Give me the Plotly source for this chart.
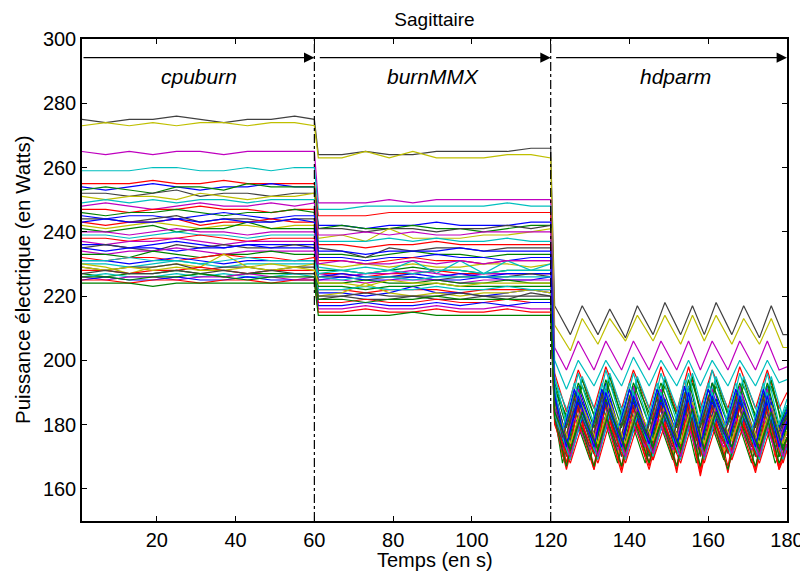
import plotly.graph_objects as go

# Time samples for each phase
T_CPU = [1, 7, 13, 19, 25, 31, 37, 43, 49, 55, 60]
T_MMX = [61, 67, 73, 79, 85, 91, 97, 103, 109, 115, 120]
HD_GRIDS = {
    "A": [121, 124, 127, 131, 134, 138, 141, 145, 148, 152, 155, 158, 161, 165, 168, 172, 175, 178, 180],
    "B": [121, 125, 128, 132, 135, 139, 142, 146, 149, 153, 156, 159, 162, 166, 169, 173, 176, 179, 180],
    "C": [121, 123, 126, 130, 133, 137, 140, 144, 147, 151, 154, 157, 160, 164, 167, 171, 174, 177, 180],
}

SERIES_COLOR = ["k", "y", "m", "c", "r", "b", "g", "k", "y", "c", "m", "r", "g", "b", "k", "r",
                "y", "g", "c", "r", "m", "b", "k", "b", "m", "g", "r", "b", "c", "y", "k", "r",
                "g", "c", "m", "b", "r", "g", "y", "k", "c", "m", "b", "g"]
SERIES_GRID = ["B", "B", "A", "A", "A", "A", "B", "C", "A", "B", "A", "C", "A", "B", "A", "A",
               "C", "B", "A", "B", "A", "C", "A", "B", "A", "C", "A", "B", "A", "B", "C", "A",
               "A", "B", "C", "A", "B", "A", "B", "C", "C", "B", "A", "B"]

CPU_VALUES = [
    [275, 274, 275, 275, 276, 275, 274, 275, 275, 276, 275],
    [273, 274, 273, 274, 273, 274, 274, 273, 274, 274, 273],
    [265, 264, 265, 264, 265, 265, 264, 265, 265, 265, 265],
    [259, 259, 259, 260, 260, 259, 259, 260, 259, 260, 260],
    [255, 255, 255, 256, 255, 255, 256, 255, 255, 255, 255],
    [254, 253, 254, 255, 254, 253, 254, 254, 255, 254, 254],
    [253, 254, 253, 252, 254, 254, 253, 255, 254, 254, 254],
    [252, 252, 251, 252, 253, 251, 252, 252, 251, 252, 252],
    [251, 250, 251, 251, 250, 252, 251, 250, 251, 251, 252],
    [249, 250, 249, 250, 249, 250, 250, 249, 250, 250, 250],
    [248, 249, 248, 247, 248, 249, 248, 248, 249, 248, 249],
    [247, 247, 246, 247, 247, 248, 247, 247, 246, 247, 247],
    [246, 245, 246, 246, 247, 246, 245, 246, 246, 247, 246],
    [245, 244, 245, 245, 244, 245, 246, 245, 244, 245, 245],
    [244, 244, 243, 244, 245, 243, 244, 244, 243, 244, 244],
    [243, 242, 243, 243, 244, 242, 243, 243, 244, 243, 243],
    [242, 241, 242, 243, 242, 241, 242, 242, 241, 242, 242],
    [241, 240, 241, 242, 240, 241, 241, 243, 241, 241, 241],
    [239, 239, 238, 239, 240, 239, 239, 238, 239, 239, 239],
    [238, 238, 237, 238, 238, 239, 238, 237, 238, 238, 238],
    [237, 236, 237, 237, 238, 237, 236, 237, 237, 237, 237],
    [236, 236, 235, 236, 237, 236, 235, 236, 236, 236, 236],
    [235, 236, 235, 234, 236, 235, 236, 235, 235, 236, 235],
    [235, 234, 235, 235, 234, 235, 235, 236, 235, 235, 235],
    [234, 233, 234, 234, 235, 234, 233, 234, 234, 234, 234],
    [233, 233, 232, 234, 233, 232, 233, 233, 234, 233, 233],
    [232, 231, 232, 232, 231, 232, 233, 232, 232, 231, 232],
    [231, 231, 230, 231, 232, 231, 230, 231, 231, 231, 231],
    [230, 230, 229, 230, 231, 230, 229, 230, 230, 230, 230],
    [230, 229, 227, 229, 230, 229, 233, 229, 230, 229, 230],
    [229, 228, 229, 229, 230, 228, 229, 229, 228, 229, 229],
    [228, 228, 227, 228, 228, 229, 228, 227, 228, 228, 228],
    [227, 226, 227, 227, 228, 227, 226, 227, 227, 227, 227],
    [226, 227, 226, 226, 227, 226, 227, 226, 226, 227, 226],
    [226, 225, 226, 226, 225, 226, 226, 227, 226, 225, 226],
    [225, 226, 225, 225, 226, 225, 225, 226, 225, 225, 225],
    [225, 225, 224, 225, 225, 224, 225, 225, 224, 225, 225],
    [224, 224, 224, 223, 224, 224, 224, 224, 224, 224, 224],
    [229, 228, 229, 228, 229, 228, 228, 229, 228, 229, 228],
    [227, 228, 227, 227, 228, 227, 228, 227, 228, 227, 227],
    [231, 231, 232, 231, 231, 230, 231, 232, 231, 231, 231],
    [240, 240, 239, 240, 241, 240, 240, 239, 240, 240, 240],
    [243, 244, 243, 243, 244, 243, 244, 243, 243, 244, 243],
    [226, 226, 225, 226, 226, 227, 226, 225, 226, 226, 226],
]

MMX_VALUES = [
    [264, 264, 265, 264, 264, 265, 265, 265, 265, 266, 266],
    [263, 263, 265, 263, 265, 263, 263, 263, 264, 264, 263],
    [249, 249, 249, 250, 249, 250, 250, 250, 250, 250, 250],
    [247, 247, 248, 248, 248, 248, 248, 248, 249, 248, 248],
    [245, 245, 245, 246, 246, 246, 246, 246, 246, 246, 246],
    [242, 242, 241, 242, 242, 243, 242, 242, 242, 243, 243],
    [241, 242, 241, 241, 242, 241, 241, 240, 241, 242, 242],
    [241, 241, 240, 241, 241, 240, 241, 241, 242, 241, 242],
    [238, 239, 237, 241, 238, 238, 238, 239, 239, 240, 241],
    [237, 237, 237, 238, 237, 238, 237, 237, 238, 237, 237],
    [239, 239, 240, 239, 240, 239, 239, 240, 240, 240, 240],
    [236, 236, 235, 236, 236, 237, 236, 236, 236, 236, 236],
    [233, 233, 232, 233, 234, 233, 233, 232, 233, 233, 233],
    [232, 232, 231, 232, 232, 233, 232, 232, 231, 232, 232],
    [235, 234, 232, 235, 234, 235, 235, 234, 235, 235, 235],
    [231, 231, 230, 231, 232, 231, 231, 230, 231, 231, 231],
    [230, 229, 230, 229, 230, 229, 229, 230, 230, 229, 230],
    [228, 228, 227, 228, 229, 228, 228, 227, 228, 228, 228],
    [229, 228, 229, 228, 231, 227, 231, 227, 231, 228, 230],
    [227, 227, 226, 227, 227, 228, 227, 227, 227, 227, 227],
    [227, 226, 227, 227, 228, 227, 226, 227, 227, 227, 227],
    [226, 227, 226, 226, 227, 226, 227, 226, 227, 227, 227],
    [226, 226, 225, 226, 226, 225, 226, 226, 226, 227, 226],
    [225, 226, 225, 225, 226, 225, 225, 226, 225, 225, 226],
    [225, 225, 224, 225, 225, 225, 224, 225, 225, 225, 225],
    [224, 224, 225, 224, 224, 225, 224, 224, 225, 224, 224],
    [222, 222, 221, 222, 222, 222, 221, 222, 222, 222, 222],
    [221, 221, 220, 221, 223, 221, 221, 220, 221, 222, 221],
    [226, 225, 226, 226, 225, 226, 226, 226, 226, 226, 226],
    [220, 221, 224, 221, 220, 221, 220, 221, 221, 222, 221],
    [219, 220, 219, 219, 220, 219, 219, 220, 219, 221, 220],
    [218, 218, 219, 218, 218, 219, 218, 218, 219, 218, 218],
    [223, 223, 222, 223, 223, 224, 223, 223, 223, 223, 223],
    [222, 222, 223, 222, 222, 223, 222, 222, 223, 222, 222],
    [216, 216, 217, 216, 216, 217, 216, 216, 217, 216, 216],
    [217, 217, 218, 217, 217, 218, 217, 218, 217, 218, 218],
    [215, 215, 216, 215, 215, 216, 215, 215, 216, 215, 215],
    [214, 214, 214, 214, 215, 214, 214, 214, 214, 214, 214],
    [224, 224, 223, 225, 224, 224, 223, 224, 224, 224, 224],
    [220, 220, 221, 220, 220, 220, 221, 220, 220, 220, 220],
    [227, 228, 227, 228, 227, 228, 228, 227, 228, 228, 228],
    [230, 231, 230, 230, 231, 230, 231, 230, 231, 231, 231],
    [234, 234, 233, 234, 234, 234, 235, 234, 234, 234, 234],
    [219, 219, 218, 219, 219, 220, 219, 219, 219, 219, 219],
]

HD_VALUES = [
    [217, 208, 217, 208, 216, 207, 217, 208, 218, 208, 217, 208, 218, 208, 217, 207, 217, 208, 208],
    [211, 203, 213, 205, 213, 206, 214, 206, 214, 205, 214, 206, 214, 205, 213, 205, 213, 204, 204],
    [204, 197, 206, 197, 206, 197, 206, 197, 206, 197, 206, 197, 206, 197, 206, 197, 206, 197, 198],
    [200, 191, 200, 192, 200, 192, 201, 192, 200, 192, 200, 192, 200, 192, 200, 192, 200, 193, 194],
    [196, 184, 197, 185, 198, 185, 197, 185, 198, 184, 198, 185, 197, 185, 198, 185, 197, 185, 190],
    [190, 176, 192, 177, 193, 176, 192, 176, 191, 177, 192, 176, 193, 177, 192, 176, 192, 177, 185],
    [193, 178, 194, 179, 195, 178, 194, 178, 194, 179, 195, 178, 194, 179, 194, 178, 194, 178, 182],
    [189, 175, 190, 176, 190, 175, 191, 175, 190, 176, 190, 175, 191, 176, 190, 175, 190, 176, 184],
    [188, 172, 188, 173, 189, 172, 188, 172, 187, 173, 188, 172, 189, 172, 188, 173, 188, 172, 180],
    [194, 182, 195, 182, 196, 181, 195, 182, 195, 182, 196, 182, 195, 181, 195, 182, 195, 182, 186],
    [190, 174, 191, 175, 191, 174, 192, 174, 191, 175, 191, 174, 191, 175, 192, 174, 191, 174, 183],
    [188, 170, 189, 171, 190, 169, 189, 170, 189, 170, 190, 170, 189, 169, 189, 171, 189, 170, 180],
    [192, 179, 193, 179, 194, 179, 193, 180, 193, 179, 194, 179, 193, 180, 193, 179, 193, 179, 186],
    [187, 172, 187, 173, 188, 172, 187, 172, 188, 173, 187, 172, 188, 172, 187, 173, 187, 172, 176],
    [190, 176, 190, 176, 191, 176, 190, 177, 190, 176, 191, 176, 190, 177, 190, 176, 190, 176, 183],
    [186, 168, 186, 167, 187, 167, 186, 168, 186, 167, 187, 165, 186, 167, 186, 166, 186, 167, 176],
    [185, 171, 185, 171, 186, 171, 185, 172, 185, 171, 186, 171, 185, 172, 185, 171, 185, 171, 178],
    [191, 180, 192, 180, 193, 180, 192, 181, 192, 180, 193, 180, 192, 181, 192, 180, 192, 180, 184],
    [195, 180, 196, 180, 197, 181, 196, 180, 196, 181, 196, 180, 197, 180, 196, 181, 196, 180, 188],
    [184, 169, 184, 170, 185, 169, 184, 169, 185, 170, 184, 169, 185, 170, 184, 169, 184, 169, 173],
    [187, 173, 188, 173, 188, 174, 188, 173, 188, 173, 189, 173, 188, 174, 188, 173, 188, 173, 181],
    [190, 177, 191, 177, 191, 178, 191, 177, 191, 177, 192, 177, 191, 178, 191, 177, 191, 177, 184],
    [186, 170, 186, 171, 187, 170, 186, 170, 186, 171, 187, 170, 186, 171, 186, 170, 186, 170, 178],
    [185, 172, 185, 172, 186, 172, 185, 173, 185, 172, 186, 172, 185, 173, 185, 172, 185, 172, 176],
    [188, 175, 189, 175, 190, 175, 189, 176, 189, 175, 190, 175, 189, 176, 189, 175, 189, 175, 182],
    [183, 168, 183, 169, 184, 168, 183, 168, 183, 169, 184, 168, 183, 169, 183, 168, 183, 168, 176],
    [186, 167, 186, 166, 187, 166, 186, 167, 186, 165, 187, 166, 186, 165, 186, 166, 186, 166, 176],
    [182, 170, 182, 170, 183, 170, 182, 171, 182, 170, 183, 170, 182, 171, 182, 170, 182, 170, 174],
    [189, 172, 190, 172, 191, 173, 190, 172, 190, 172, 191, 172, 190, 173, 190, 172, 190, 172, 181],
    [184, 170, 184, 171, 185, 170, 184, 170, 184, 171, 185, 170, 184, 171, 184, 170, 184, 170, 174],
    [185, 173, 185, 173, 186, 173, 185, 174, 185, 173, 186, 173, 185, 174, 185, 173, 185, 173, 179],
    [181, 166, 181, 166, 182, 165, 181, 166, 181, 166, 182, 164, 181, 166, 181, 165, 181, 166, 172],
    [187, 171, 188, 171, 188, 172, 188, 171, 188, 171, 189, 171, 188, 172, 188, 171, 188, 170, 180],
    [183, 169, 183, 169, 184, 169, 183, 170, 183, 169, 184, 169, 183, 170, 183, 169, 183, 169, 173],
    [182, 172, 182, 172, 183, 172, 182, 173, 182, 172, 183, 172, 182, 173, 182, 172, 182, 172, 177],
    [186, 174, 187, 174, 187, 175, 187, 174, 187, 174, 188, 174, 187, 175, 187, 174, 187, 174, 181],
    [180, 168, 180, 168, 181, 168, 180, 169, 180, 168, 181, 168, 180, 169, 180, 168, 180, 168, 172],
    [182, 167, 182, 167, 183, 167, 182, 168, 182, 167, 183, 167, 182, 166, 182, 167, 182, 168, 174],
    [186, 174, 186, 174, 187, 174, 186, 175, 186, 174, 187, 174, 186, 175, 186, 174, 186, 174, 178],
    [188, 176, 188, 176, 189, 176, 188, 177, 188, 176, 189, 176, 188, 177, 188, 176, 188, 176, 182],
    [192, 178, 193, 178, 193, 179, 193, 178, 193, 178, 194, 178, 193, 179, 193, 178, 193, 178, 186],
    [185, 170, 185, 170, 186, 170, 185, 171, 185, 170, 186, 170, 185, 171, 185, 170, 185, 170, 174],
    [189, 173, 189, 173, 190, 173, 189, 174, 189, 173, 190, 173, 189, 174, 189, 173, 189, 173, 181],
    [184, 172, 184, 172, 185, 172, 184, 173, 184, 172, 185, 172, 184, 173, 184, 172, 184, 172, 176],
]

PHASE_LABELS = ["cpuburn", "burnMMX", "hdparm"]
PHASE_BOUNDS = [(1, 60), (61, 120), (121, 180)]
PHASE_LABEL_X = [30.6, 90, 151.8]
ARROW_Y = 294.2
LABEL_Y = 288.3
DIVIDERS = [60, 120]

COLOR_MAP = {
    "b": "#0000ff", "g": "#008000", "r": "#ff0000", "c": "#00bfbf",
    "m": "#bf00bf", "y": "#bfbf00", "k": "#404040",
}
FONT = "Liberation Sans, Arial, Helvetica, sans-serif"

fig = go.Figure()
for i in range(len(CPU_VALUES)):
    xs = T_CPU + T_MMX + HD_GRIDS[SERIES_GRID[i]]
    ys = CPU_VALUES[i] + MMX_VALUES[i] + HD_VALUES[i]
    fig.add_trace(go.Scatter(x=xs, y=ys, mode="lines",
                             line=dict(color=COLOR_MAP[SERIES_COLOR[i]], width=1.2),
                             showlegend=False, hoverinfo="skip"))

for d in DIVIDERS:
    fig.add_shape(type="line", xref="x", yref="paper", x0=d, x1=d, y0=0, y1=1,
                  line=dict(color="black", width=1.2, dash="dashdot"), layer="above")

for (x0, x1), lab, lx in zip(PHASE_BOUNDS, PHASE_LABELS, PHASE_LABEL_X):
    fig.add_annotation(x=x1, y=ARROW_Y, ax=x0, ay=ARROW_Y, xref="x", yref="y",
                       axref="x", ayref="y", showarrow=True, arrowhead=2,
                       arrowsize=1.6, arrowwidth=1.3, arrowcolor="black", text="")
    fig.add_annotation(x=lx, y=LABEL_Y, xref="x", yref="y", text="<i>" + lab + "</i>",
                       showarrow=False, font=dict(size=21, color="black", family=FONT))

# axis titles as annotations for precise placement
fig.add_annotation(text="Temps (en s)", xref="paper", yref="paper", x=0.5, y=0,
                   yshift=-39, yanchor="middle", showarrow=False,
                   font=dict(size=20, color="black", family=FONT))
fig.add_annotation(text="Puissance électrique (en Watts)", xref="paper", yref="paper",
                   x=0, y=0.5, xshift=-60, xanchor="center", yanchor="middle",
                   textangle=-90, showarrow=False,
                   font=dict(size=20.5, color="black", family=FONT))

axis_common = dict(showline=True, linecolor="black", linewidth=1.5, mirror="ticks",
                   ticks="inside", ticklen=5, tickcolor="black", showgrid=False,
                   zeroline=False, automargin=False,
                   tickfont=dict(size=20, color="black", family=FONT))

# the page adds an 8px body margin, so the figure is 8px smaller than the window
fig.update_layout(
    width=800, height=566,
    margin=dict(l=74, r=21, t=31, b=53),
    paper_bgcolor="white", plot_bgcolor="white",
    font=dict(family=FONT, color="black"),
    title=dict(text="Sagittaire", x=0.5, xanchor="center", y=0.98, yanchor="middle",
               xref="paper", font=dict(size=19, color="black", family=FONT)),
    xaxis=dict(range=[1, 180], tickvals=[20, 40, 60, 80, 100, 120, 140, 160, 180], **axis_common),
    yaxis=dict(range=[150, 300], tickvals=[160, 180, 200, 220, 240, 260, 280, 300], **axis_common),
)

fig.write_html("out.html")
